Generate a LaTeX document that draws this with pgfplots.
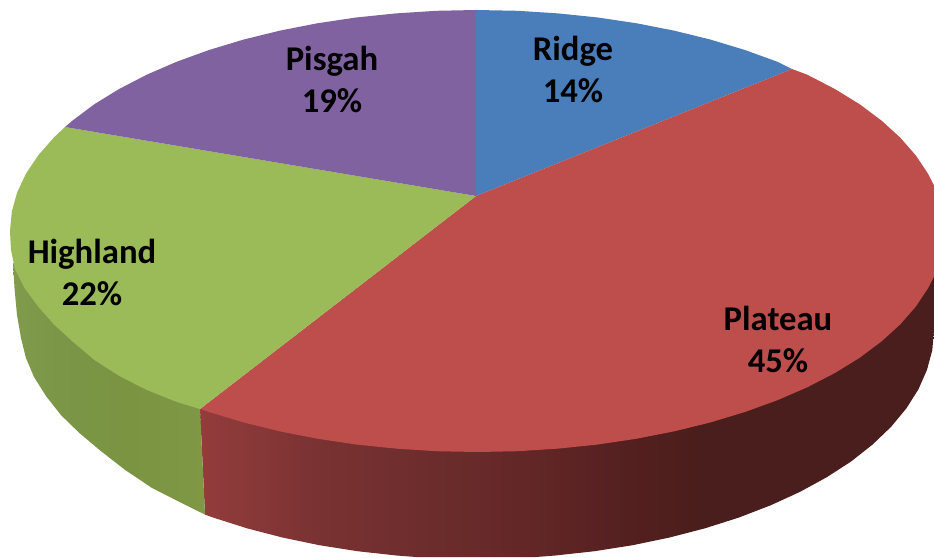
\documentclass[border=0pt]{standalone}
\usepackage{fontspec}
\setmainfont{Carlito}
\usepackage{pgfplots}
\pgfplotsset{compat=1.18}
\usetikzlibrary{shadings}

\definecolor{ridge}{RGB}{74,126,187}
\definecolor{plateau}{RGB}{190,78,76}
\definecolor{highland}{RGB}{155,187,89}
\definecolor{pisgah}{RGB}{128,98,160}

% side walls: stops 25bp..75bp span the left and right end of each wall
\pgfdeclarehorizontalshading{plateauside}{100bp}{
  rgb(0bp)=(0.580,0.235,0.235);
  rgb(25bp)=(0.580,0.235,0.235);
  rgb(33bp)=(0.478,0.196,0.196);
  rgb(41bp)=(0.424,0.173,0.173);
  rgb(48bp)=(0.384,0.149,0.149);
  rgb(55bp)=(0.322,0.122,0.118);
  rgb(59bp)=(0.290,0.118,0.110);
  rgb(100bp)=(0.282,0.118,0.110)}
\pgfdeclarehorizontalshading{highlandside}{100bp}{
  rgb(0bp)=(0.502,0.608,0.298);
  rgb(25bp)=(0.502,0.608,0.298);
  rgb(37bp)=(0.478,0.588,0.275);
  rgb(55bp)=(0.478,0.580,0.259);
  rgb(75bp)=(0.502,0.596,0.267);
  rgb(100bp)=(0.502,0.596,0.267)}

\begin{document}
\begin{tikzpicture}[
  lab/.style={font=\fontsize{34.7}{42}\selectfont\bfseries, align=center, text=black, inner sep=0pt},
]
\begin{axis}[
  width=934pt, height=557pt,
  scale only axis,
  axis lines=none,
  xmin=0, xmax=934,
  ymin=0, ymax=557,
  y dir=reverse,
  clip=true,
]
% white page, keeps the full size of the picture
\addplot[draw=none, fill=white] coordinates {(0,0) (934,0) (934,557) (0,557) (0,0)};

% side walls
\addplot[draw=none, shading=plateauside] coordinates {
  (200,409) (934,276.5) (934,330) (932.3,350) (927,369.8) (918.4,389.3) (906.4,408.3)
  (891.1,426.8) (872.6,444.5) (851.2,461.4) (826.8,477.2) (799.9,491.9) (770.4,505.4)
  (738.7,517.6) (705,528.3) (669.6,537.5) (632.6,545.2) (594.5,551.2) (555.5,555.5)
  (536,557) (416,557) (396.5,555.5) (357.5,551.2) (319.4,545.2) (282.4,537.5)
  (247,528.3) (213.3,517.6) (205,514.6) (200,409)};
\addplot[draw=none, shading=highlandside] coordinates {
  (200,409) (205,514.6) (181.6,503) (152.1,488) (125.2,470) (100.8,451) (79.4,433)
  (60.9,415) (46,396) (34,377) (26,358) (21,338) (17,315) (14.5,288) (13,263) (200,409)};

% top faces
\addplot[draw=none, fill=ridge] coordinates {
  (476,196) (476,10) (517.7,10.8) (558.1,13.4) (597.9,17.5) (636.7,23.3) (674.4,30.7)
  (710.5,39.6) (744.9,50) (777.2,61.7) (792,69) (476,196)};
\addplot[draw=none, fill=plateau] coordinates {
  (476,196) (792,69) (807.2,74.7) (834.7,88.9) (859.6,104.2) (881.4,120.5) (900.2,137.6)
  (915.8,155.4) (928.1,173.8) (934,185.5) (934,276.5) (928.1,288.2) (915.8,306.6)
  (900.2,324.4) (881.4,341.5) (859.6,357.8) (834.7,373.1) (807.2,387.3) (777.2,400.3)
  (744.9,412) (710.5,422.4) (674.4,431.3) (636.7,438.7) (597.9,444.5) (558.1,448.6)
  (517.7,451.2) (477,452) (436.3,451.2) (395.9,448.6) (356.1,444.5) (317.3,438.7)
  (279.6,431.3) (243.5,422.4) (209.1,412) (200,409) (476,196)};
\addplot[draw=none, fill=highland] coordinates {
  (476,196) (200,409) (176.8,402) (146.8,390) (119.3,376) (94.4,360) (72.6,341.5)
  (53.8,324.4) (38.2,306.6) (24.5,288) (15,269) (11,250) (10,231) (11.8,211.7)
  (17.1,192.6) (25.9,173.8) (38.2,155.4) (53.8,137.6) (65,127) (476,196)};
\addplot[draw=none, fill=pisgah] coordinates {
  (476,196) (65,127) (72.6,120.5) (94.4,104.2) (119.3,88.9) (146.8,74.7) (176.8,61.7)
  (209.1,50) (243.5,39.6) (279.6,30.7) (317.3,23.3) (356.1,17.5) (395.9,13.4) (436.3,10.8)
  (476,10) (476,196)};

% labels
\node[lab] at (axis cs:573,69) {Ridge\\14\%};
\node[lab] at (axis cs:778,339) {Plateau\\45\%};
\node[lab] at (axis cs:92,272) {Highland\\22\%};
\node[lab] at (axis cs:332,79) {Pisgah\\19\%};
\end{axis}
\end{tikzpicture}
\end{document}
